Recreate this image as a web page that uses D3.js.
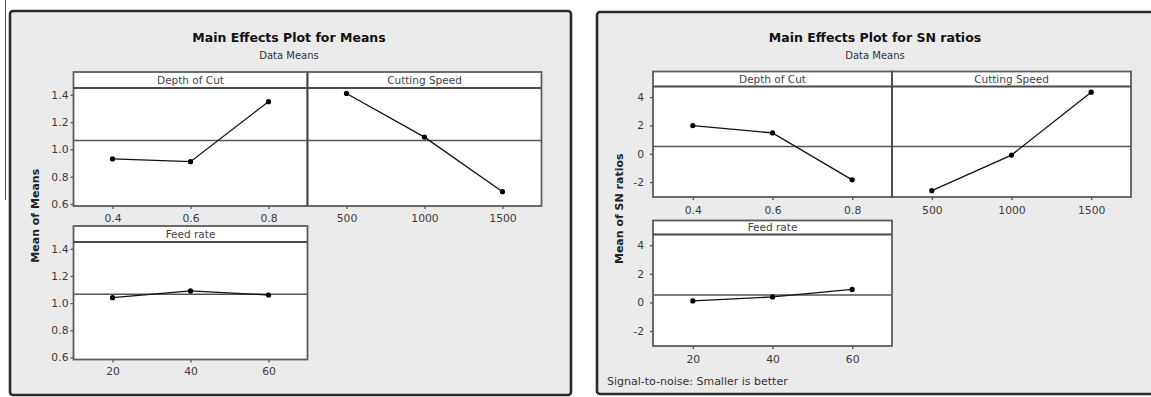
<!DOCTYPE html>
<html>
<head>
<meta charset="utf-8">
<script src="https://cdn.jsdelivr.net/npm/d3@7"></script>
<style>
    body{margin:0;background:#fff;}
    svg{display:block;font-family:"DejaVu Sans",Verdana,sans-serif;}
</style>
</head>
<body>
<script>
// 0. data
var depthLevels=[0.4,0.6,0.8];
var speedLevels=[500,1000,1500];
var feedLevels=[20,40,60];
var factorNames=["Depth of Cut","Cutting Speed","Feed rate"];

var meansDepth=[0.93,0.91,1.35];
var meansSpeed=[1.41,1.09,0.69];
var meansFeed=[1.04,1.09,1.06];
var meansGrand=1.065;
var meansTicks=[0.6,0.8,1.0,1.2,1.4];

var snDepth=[1.99,1.47,-1.84];
var snSpeed=[-2.6,-0.09,4.35];
var snFeed=[0.1,0.38,0.91];
var snGrand=0.52;
var snTicks=[-2,0,2,4];

var levelSets=[depthLevels,speedLevels,feedLevels];
var xFormats=[d3.format(".1f"),d3.format("d"),d3.format("d")];

// minitab prints a plain hyphen, not the unicode minus d3 uses
function plain(fmt){
    return function(v){ return fmt(v).replace("\u2212","-"); };
}

// 0.1 layout of the two minitab windows
var panels=[
    {title:"Main Effects Plot for Means", sub:"Data Means", ytitle:"Mean of Means", footer:null,
        frame:[10,11,571,395], titleX:289, ytitleX:35,
        cols:[73.5,307.5,541.5], rows:[[72,88,206],[226,242,359.5]],
        yDomain:[0.585,1.45], yTicks:meansTicks, yFmt:plain(d3.format(".1f")), yPad:2, xPad:5,
        series:[meansDepth,meansSpeed,meansFeed], grand:meansGrand},
    {title:"Main Effects Plot for SN ratios", sub:"Data Means", ytitle:"Mean of SN ratios", footer:"Signal-to-noise: Smaller is better",
        frame:[597,12,1162,394], titleX:875, ytitleX:619,
        cols:[653,892,1131], rows:[[71.5,86.5,197],[220.5,234.5,346]],
        yDomain:[-3.05,4.75], yTicks:snTicks, yFmt:plain(d3.format("d")), yPad:6, xPad:6,
        series:[snDepth,snSpeed,snFeed], grand:snGrand}
];

var W=1151, H=397;
var svg=d3.select("body").append("svg").attr("width",W).attr("height",H);

// stray line at the left edge of the screenshot
svg.append("line").attr("x1",5.5).attr("x2",5.5).attr("y1",0).attr("y2",200)
    .attr("stroke","#444").attr("stroke-width",1);

function drawFacet(g,P,k){
    var col=(k==1)?1:0, row=(k==2)?1:0;
    var x0=P.cols[col], x1=P.cols[col+1], r=P.rows[row];
    var levels=levelSets[k], vals=P.series[k];
    var step=levels[1]-levels[0];

    var x=d3.scaleLinear().domain([levels[0]-step/2,levels[levels.length-1]+step/2]).range([x0,x1]);
    var y=d3.scaleLinear().domain(P.yDomain).range([r[2],r[1]]);

    // strip + plot area
    g.append("rect").attr("x",x0).attr("y",r[0]).attr("width",x1-x0).attr("height",r[2]-r[0]).attr("fill","#fff");
    g.append("text").attr("x",(x0+x1)/2).attr("y",(r[0]+r[1])/2+3.8)
        .attr("text-anchor","middle").attr("font-size",10.5).attr("fill","#444")
        .text(factorNames[k]);

    // reference line at the grand mean
    g.append("line").attr("x1",x0).attr("x2",x1).attr("y1",y(P.grand)).attr("y2",y(P.grand))
        .attr("stroke","#555").attr("stroke-width",1.6);

    var pts=levels.map(function(d,i){return [d,vals[i]];});
    g.append("path").datum(pts)
        .attr("d",d3.line().x(function(d){return x(d[0]);}).y(function(d){return y(d[1]);}))
        .attr("fill","none").attr("stroke","#111").attr("stroke-width",1.3);
    g.selectAll(".pt"+k).data(pts).enter().append("circle")
        .attr("cx",function(d){return x(d[0]);}).attr("cy",function(d){return y(d[1]);})
        .attr("r",2.6).attr("fill","#000");

    // axes
    var ax=g.append("g").attr("transform","translate(0,"+r[2]+")")
        .call(d3.axisBottom(x).tickValues(levels).tickFormat(xFormats[k]).tickSize(3).tickPadding(P.xPad));
    styleAxis(ax);
    if(col==0){
        var ay=g.append("g").attr("transform","translate("+x0+",0)")
            .call(d3.axisLeft(y).tickValues(P.yTicks).tickFormat(P.yFmt).tickSize(3).tickPadding(P.yPad));
        styleAxis(ay);
    }

    // borders
    g.append("rect").attr("x",x0).attr("y",r[0]).attr("width",x1-x0).attr("height",r[2]-r[0])
        .attr("fill","none").attr("stroke","#5c5c5c").attr("stroke-width",1.8);
    g.append("line").attr("x1",x0).attr("x2",x1).attr("y1",r[1]).attr("y2",r[1])
        .attr("stroke","#4a4a4a").attr("stroke-width",2);
}

function styleAxis(a){
    a.select(".domain").remove();
    a.selectAll(".tick line").attr("stroke","#555").attr("stroke-width",1.3);
    a.selectAll(".tick text").attr("font-size",10.8).attr("fill","#3c3c3c")
        .attr("font-family","DejaVu Sans,Verdana,sans-serif");
}

panels.forEach(function(P){
    var g=svg.append("g");
    var f=P.frame;
    g.append("rect").attr("x",f[0]).attr("y",f[1]).attr("width",f[2]-f[0]).attr("height",f[3]-f[1])
        .attr("rx",3).attr("fill","#ebebeb").attr("stroke","#2b2b2b").attr("stroke-width",2.6);

    g.append("text").attr("x",P.titleX).attr("y",42).attr("text-anchor","middle")
        .attr("font-size",12.5).attr("font-weight","bold").attr("fill","#111").text(P.title);
    g.append("text").attr("x",P.titleX).attr("y",59).attr("text-anchor","middle")
        .attr("font-size",10).attr("fill","#333").text(P.sub);

    var yc=(P.rows[0][0]+P.rows[1][2])/2;
    g.append("text").attr("transform","translate("+P.ytitleX+","+yc+") rotate(-90)")
        .attr("text-anchor","middle").attr("dy","0.35em")
        .attr("font-size",11).attr("font-weight","bold").attr("fill","#222").text(P.ytitle);

    for(var k=0;k<3;k++) drawFacet(g,P,k);

    // divider between the two top facets runs through the strip
    g.append("line").attr("x1",P.cols[1]).attr("x2",P.cols[1]).attr("y1",P.rows[0][0]).attr("y2",P.rows[0][2])
        .attr("stroke","#4a4a4a").attr("stroke-width",1.6);

    if(P.footer){
        g.append("text").attr("x",f[0]+10).attr("y",385).attr("font-size",11).attr("fill","#333").text(P.footer);
    }
});
</script>
</body>
</html>
